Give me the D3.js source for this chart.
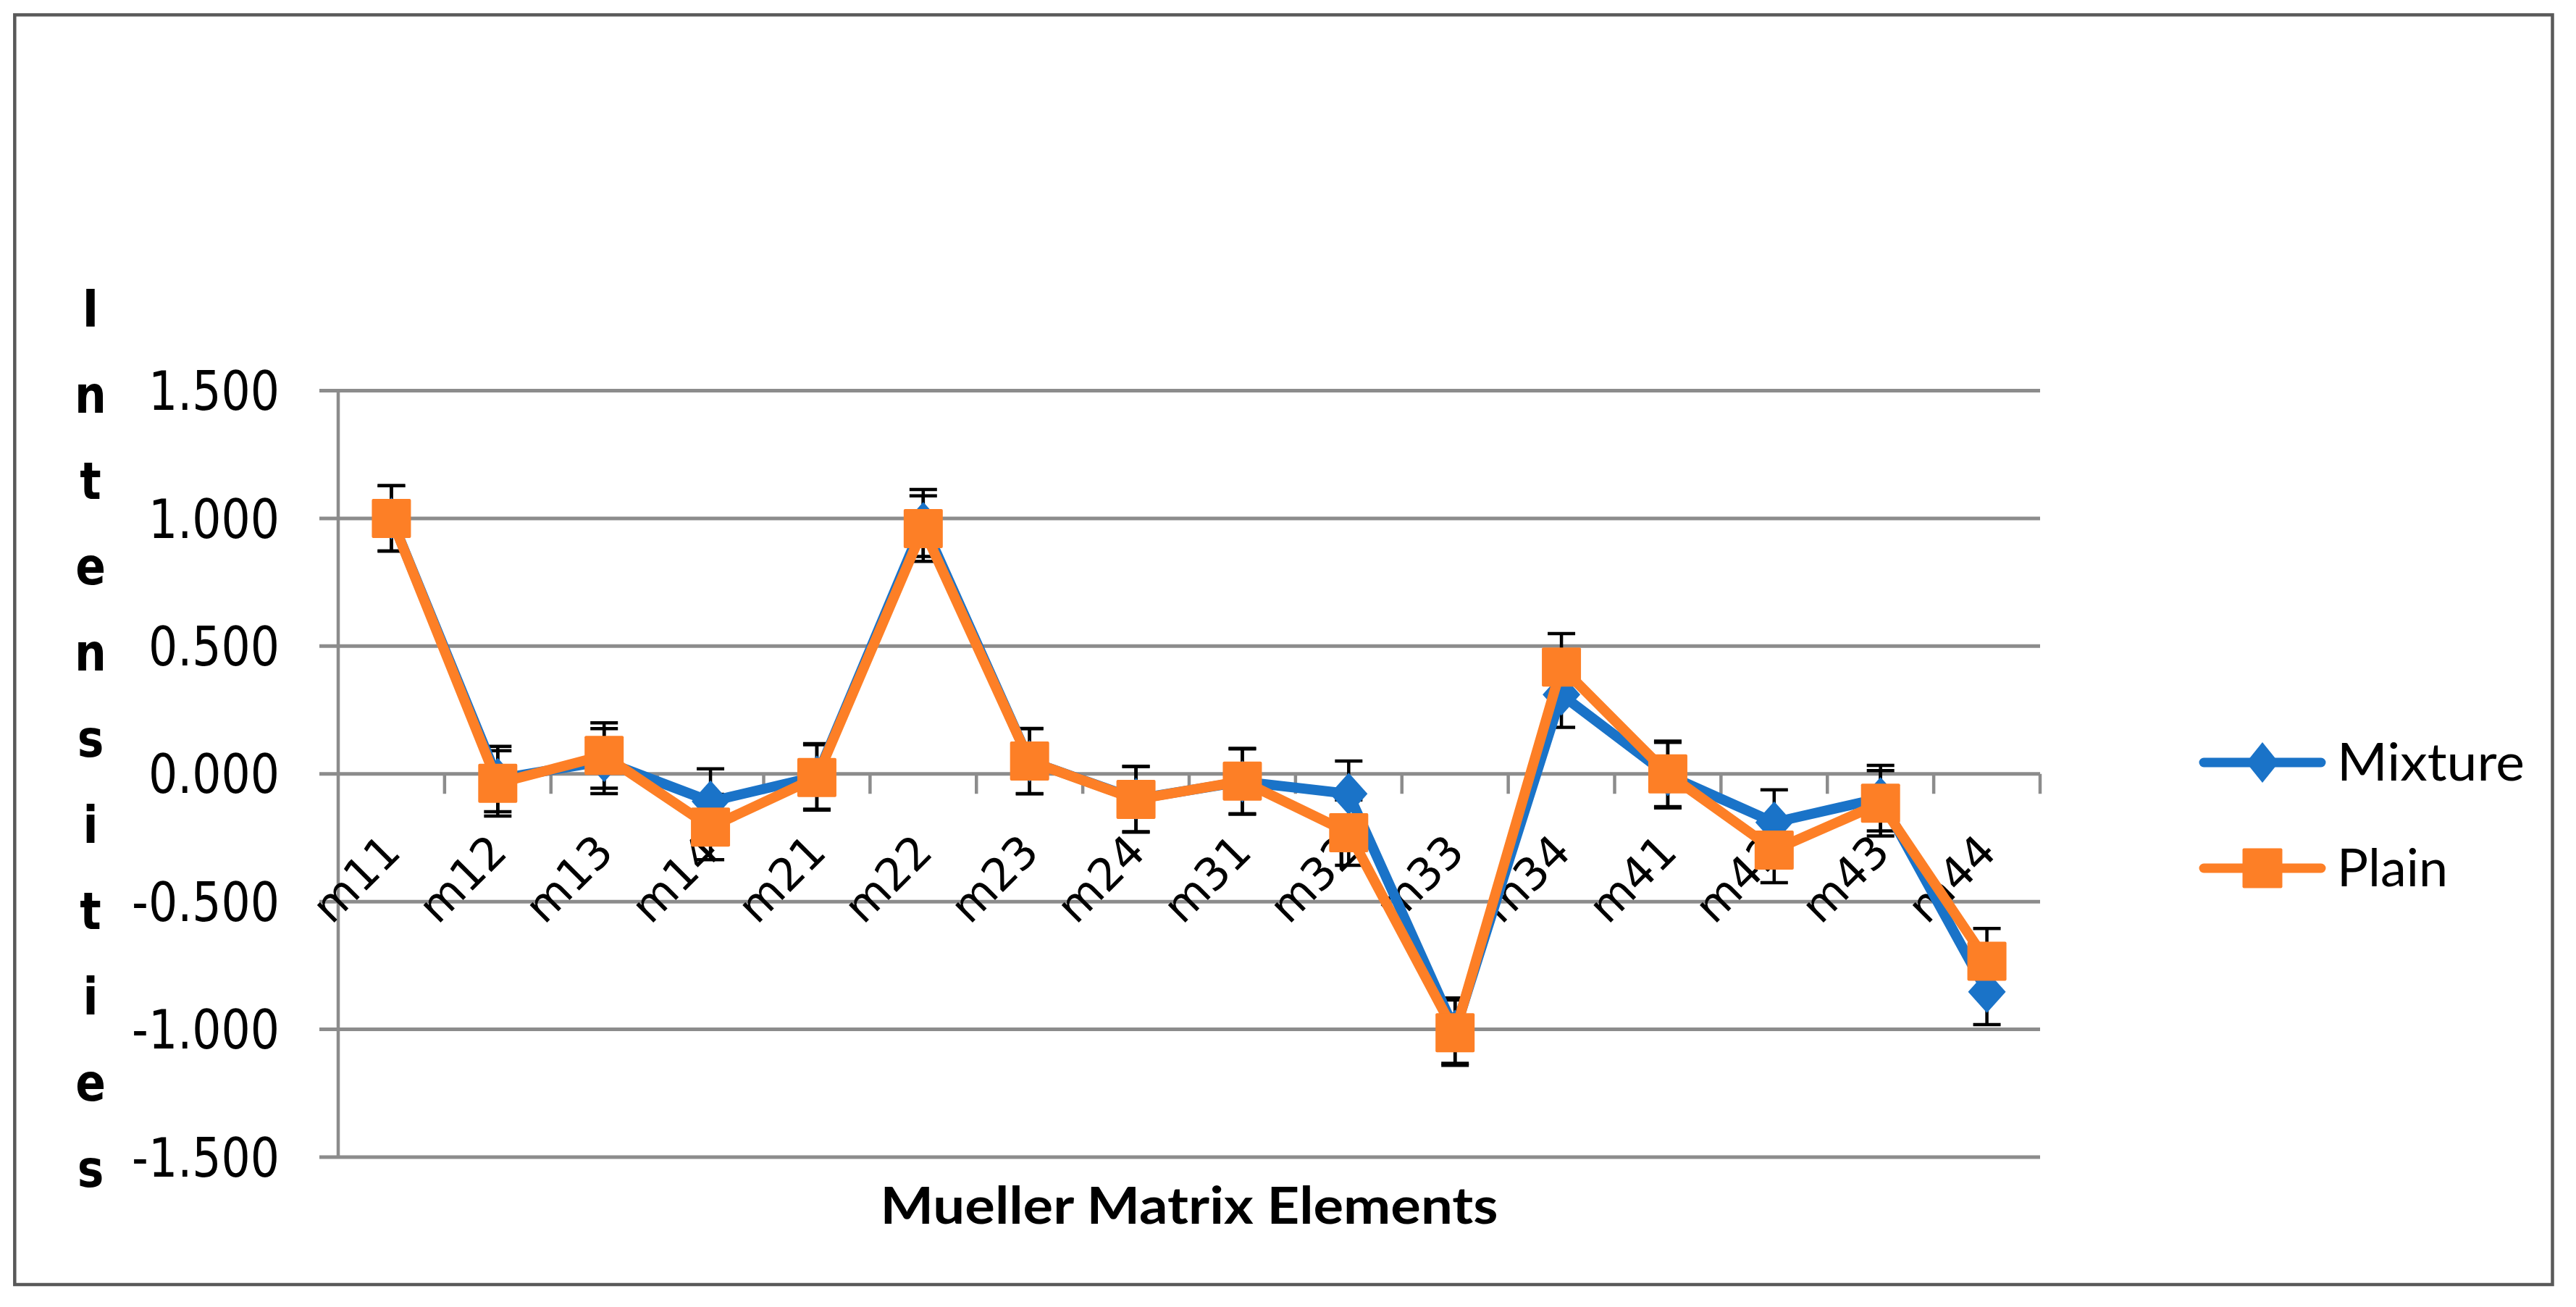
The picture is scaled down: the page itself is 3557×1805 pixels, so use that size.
<!DOCTYPE html>
<html>
<head>
<meta charset="utf-8">
<script src="https://cdn.jsdelivr.net/npm/d3@7"></script>
<style>
  html, body { margin: 0; padding: 0; background: #ffffff; }
  svg { display: block; }
</style>
</head>
<body>
<script>
// ---------- data ----------
const categories = ["m11","m12","m13","m14","m21","m22","m23","m24","m31","m32","m33","m34","m41","m42","m43","m44"];
const mixture    = [1.000, -0.020, 0.050, -0.108, -0.010, 0.982, 0.050, -0.098, -0.030, -0.078, -1.005, 0.310, -0.005, -0.190, -0.095, -0.853];
const plain      = [1.000, -0.037, 0.072, -0.208, -0.014, 0.960, 0.050, -0.100, -0.028, -0.230, -1.013, 0.418, 0.000, -0.298, -0.115, -0.733];
const mixtureErr = [0.128, 0.128, 0.127, 0.128, 0.128, 0.131, 0.127, 0.128, 0.128, 0.128, 0.128, 0.128, 0.128, 0.128, 0.128, 0.128];
const plainErr   = [0.128, 0.128, 0.128, 0.128, 0.128, 0.128, 0.128, 0.128, 0.128, 0.128, 0.128, 0.131, 0.128, 0.128, 0.128, 0.128];
const yTicks     = [1.5, 1.0, 0.5, 0.0, -0.5, -1.0, -1.5];
const seriesNames = ["Mixture", "Plain"];
const xTitle = "Mueller Matrix Elements";
const yTitle = "Intensities";

// ---------- layout ----------
const W = 3557, H = 1805;
const plot = { left: 467, right: 2817, top: 539.5, bottom: 1598 };
const BLUE = "#1a73c8", ORANGE = "#fd7f26", GRID = "#8c8c8c";

const svg = d3.select("body").append("svg").attr("width", W).attr("height", H);
svg.append("rect").attr("width", W).attr("height", H).attr("fill", "#fff");

// outer frame
svg.append("rect").attr("x", 20.3).attr("y", 20.5).attr("width", 3504.2).attr("height", 1753.5)
  .attr("fill", "none").attr("stroke", "#595959").attr("stroke-width", 4.5);

const x = d3.scaleBand().domain(categories).range([plot.left, plot.right]).paddingInner(0).paddingOuter(0);
const y = d3.scaleLinear().domain([-1.5, 1.5]).range([plot.bottom, plot.top]);
const cx = c => x(c) + x.bandwidth() / 2;

// gridlines (with outward ticks on left)
const grid = svg.append("g");
grid.selectAll("line").data(yTicks).join("line")
  .attr("x1", plot.left - 26).attr("x2", plot.right)
  .attr("y1", d => y(d)).attr("y2", d => y(d))
  .attr("stroke", GRID).attr("stroke-width", 5);

// vertical value axis
svg.append("line").attr("x1", plot.left).attr("x2", plot.left)
  .attr("y1", plot.top).attr("y2", plot.bottom)
  .attr("stroke", GRID).attr("stroke-width", 4.5);

// category axis at 0 with downward tick marks at boundaries
const boundaries = categories.map((c, i) => x(c) + x.bandwidth()).slice(0);
svg.append("g").selectAll("line").data(boundaries).join("line")
  .attr("x1", d => d).attr("x2", d => d)
  .attr("y1", y(0)).attr("y2", y(0) + 27.5)
  .attr("stroke", GRID).attr("stroke-width", 4.5);

// y tick labels
const yl = svg.append("g");
yl.selectAll("text").data(yTicks).join("text")
  .attr("transform", d => `translate(386,${y(d)}) scale(0.855,1)`)
  .attr("text-anchor", "end").attr("dy", "0.36em")
  .attr("font-family", "DejaVu Sans, Verdana, sans-serif").attr("font-size", 74)
  .attr("fill", "#000")
  .text(d => d3.format(".3f")(d).replace("−", "-"));

// y title stacked letters
const yt = svg.append("g");
yt.selectAll("text").data(yTitle.split("")).join("text")
  .attr("transform", (d, i) => `translate(125,${451 + i * 118.8}) scale(0.855,1)`)
  .attr("text-anchor", "middle")
  .attr("font-family", "DejaVu Sans, Verdana, sans-serif").attr("font-weight", "bold").attr("font-size", 72)
  .attr("fill", "#000")
  .text(d => d);

// x title
svg.append("text").attr("x", (plot.left + plot.right) / 2).attr("y", 1690)
  .attr("text-anchor", "middle")
  .attr("font-family", "Lato, 'Open Sans', sans-serif").attr("font-weight", "bold").attr("font-size", 71)
  .attr("textLength", 853).attr("lengthAdjust", "spacingAndGlyphs")
  .attr("fill", "#000").text(xTitle);

// error bars (drawn beneath lines/markers)
const series = [
  { name: seriesNames[0], vals: mixture, err: mixtureErr, color: BLUE, marker: "diamond" },
  { name: seriesNames[1], vals: plain, err: plainErr, color: ORANGE, marker: "square" }
];
const eb = svg.append("g");
series.forEach(s => {
  const rows = categories.map((c, i) => ({ c, v: s.vals[i], e: s.err[i] }));
  const g = eb.append("g");
  g.selectAll("line.v").data(rows).join("line").attr("class", "v")
    .attr("x1", d => cx(d.c)).attr("x2", d => cx(d.c))
    .attr("y1", d => y(d.v + d.e)).attr("y2", d => y(d.v - d.e))
    .attr("stroke", "#000").attr("stroke-width", 4.5);
  g.selectAll("line.t").data(rows).join("line").attr("class", "t")
    .attr("x1", d => cx(d.c) - 19).attr("x2", d => cx(d.c) + 19)
    .attr("y1", d => y(d.v + d.e)).attr("y2", d => y(d.v + d.e))
    .attr("stroke", "#000").attr("stroke-width", 4.5);
  g.selectAll("line.b").data(rows).join("line").attr("class", "b")
    .attr("x1", d => cx(d.c) - 19).attr("x2", d => cx(d.c) + 19)
    .attr("y1", d => y(d.v - d.e)).attr("y2", d => y(d.v - d.e))
    .attr("stroke", "#000").attr("stroke-width", 4.5);
});

// x category labels (rotated -45)
svg.append("g").selectAll("text").data(categories).join("text")
  .attr("transform", c => `translate(${cx(c)},${y(0) + 95}) rotate(-45)`)
  .attr("text-anchor", "end").attr("dy", "0.36em")
  .attr("font-family", "DejaVu Sans, Verdana, sans-serif").attr("font-size", 62)
  .attr("fill", "#000").text(c => c);

// lines + markers
const diamondPath = (hw, hh) => `M0,${-hh}L${hw},0L0,${hh}L${-hw},0Z`;
const line = d3.line().x(d => cx(d.c)).y(d => y(d.v));
series.forEach(s => {
  const rows = categories.map((c, i) => ({ c, v: s.vals[i] }));
  const g = svg.append("g");
  g.append("path").datum(rows).attr("d", line)
    .attr("fill", "none").attr("stroke", s.color).attr("stroke-width", 14)
    .attr("stroke-linejoin", "round").attr("stroke-linecap", "round");
  if (s.marker === "square") {
    g.selectAll("rect").data(rows).join("rect")
      .attr("x", d => cx(d.c) - 27).attr("y", d => y(d.v) - 27)
      .attr("width", 54).attr("height", 54).attr("rx", 2)
      .attr("fill", s.color);
  } else {
    g.selectAll("path.m").data(rows).join("path").attr("class", "m")
      .attr("transform", d => `translate(${cx(d.c)},${y(d.v)})`)
      .attr("d", diamondPath(26, 29)).attr("fill", s.color);
  }
});

// legend
const leg = svg.append("g");
const legY = [1053, 1199];
series.forEach((s, i) => {
  const g = leg.append("g").attr("transform", `translate(0,${legY[i]})`);
  g.append("line").attr("x1", 3043).attr("x2", 3205).attr("y1", 0).attr("y2", 0)
    .attr("stroke", s.color).attr("stroke-width", 13).attr("stroke-linecap", "round");
  if (s.marker === "square") {
    g.append("rect").attr("x", 3124 - 27.5).attr("y", -27.5).attr("width", 55).attr("height", 55)
      .attr("rx", 2).attr("fill", s.color);
  } else {
    g.append("path").attr("transform", "translate(3124,0)").attr("d", diamondPath(22.5, 28)).attr("fill", s.color);
  }
  g.append("text").attr("x", 3227).attr("y", 25)
    .attr("font-family", "Lato, 'Open Sans', sans-serif").attr("font-size", 72)
    .attr("textLength", i === 0 ? 259 : 153).attr("lengthAdjust", "spacingAndGlyphs")
    .attr("fill", "#000").text(s.name);
});
</script>
</body>
</html>
